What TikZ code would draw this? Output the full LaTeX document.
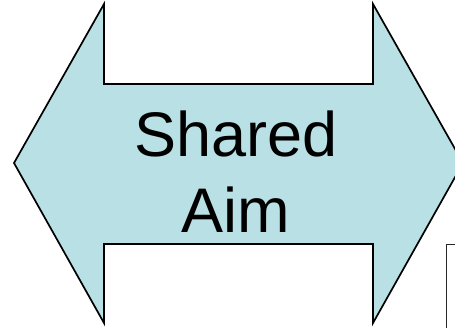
\documentclass[tikz,border=0pt]{standalone}
\usepackage{fontspec}
\setmainfont{Liberation Sans}
\usetikzlibrary{positioning}
\definecolor{aimblue}{HTML}{B9E0E4}

\begin{document}
\begin{tikzpicture}[x=1pt, y=-1pt,
  twoway/.style={draw=black, line width=1.7pt, line join=miter, fill=aimblue},
  frame/.style={draw=black!85, line width=1pt},
  lab/.style={font=\fontsize{63}{76}\selectfont, align=center, inner sep=0pt}]
\clip (0,0) rectangle (455,327);

% double arrow
\draw[twoway] (14,163) -- (104,4) -- (104,84) -- (373,84) -- (373,4) -- (463,163)
  -- (373,323) -- (373,244) -- (104,244) -- (104,323) -- cycle;
\node[lab] (aim) at (236,172) {Shared\\Aim};

% corner of the next box
\draw[frame] (446,340) -- (446,244) -- (470,244);
\end{tikzpicture}
\end{document}
